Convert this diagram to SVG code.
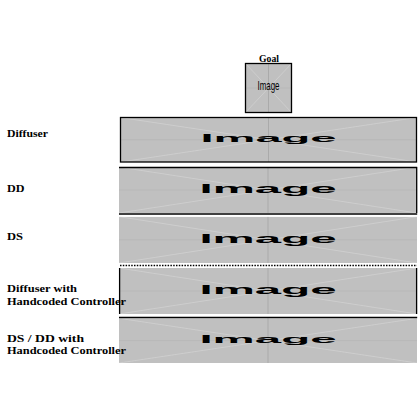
<svg xmlns="http://www.w3.org/2000/svg" xmlns:xlink="http://www.w3.org/1999/xlink" width="420" height="420" viewBox="0 0 420 420">
<style>
.lbl{font-family:"Liberation Serif","DejaVu Serif",serif;font-weight:bold;font-size:10.5px;fill:#000}
.frame{stroke:#000;stroke-width:1.3;fill:none}
.ph-bg{fill:#c0c0c0}
.ph-diag{stroke:#d2d2d2;stroke-width:0.7;fill:none}
.ph-v{stroke:#a4a4a4;stroke-width:0.8;fill:none}
.ph-h{stroke:#b2b2b2;stroke-width:0.6;fill:none}
.ph-t{font-family:"Liberation Sans",Arial,sans-serif;font-size:26px;font-weight:bold;fill:#000}
.ph-t2{font-family:"Liberation Sans",Arial,sans-serif;font-size:26px;fill:#000}
</style>
<defs>
<symbol id="ph" viewBox="0 0 100 100" preserveAspectRatio="none">
<rect class="ph-bg" x="0" y="0" width="100" height="100"/>
<path class="ph-diag" d="M0,0L100,100M100,0L0,100" vector-effect="non-scaling-stroke"/>
<path class="ph-h" d="M0,50H100" vector-effect="non-scaling-stroke"/>
<path class="ph-v" d="M50,0V100" vector-effect="non-scaling-stroke"/>
<text class="ph-t" x="50" y="56" text-anchor="middle" textLength="46" lengthAdjust="spacingAndGlyphs">Image</text>
</symbol>
<symbol id="ph2" viewBox="0 0 100 100" preserveAspectRatio="none">
<rect class="ph-bg" x="0" y="0" width="100" height="100"/>
<path class="ph-diag" d="M0,0L100,100M100,0L0,100" vector-effect="non-scaling-stroke"/>
<path class="ph-h" d="M0,50H100" vector-effect="non-scaling-stroke"/>
<path class="ph-v" d="M50,0V100" vector-effect="non-scaling-stroke"/>
<text class="ph-t2" x="50" y="54" text-anchor="middle" textLength="48" lengthAdjust="spacingAndGlyphs">Image</text>
</symbol>
</defs>
<g id="goal">
<use xlink:href="#ph2" href="#ph2" x="245.5" y="63.5" width="46" height="49"/>
<rect class="frame" x="245.5" y="63.5" width="46" height="49"/>
<text class="lbl" x="269" y="62" text-anchor="middle" textLength="20" lengthAdjust="spacingAndGlyphs">Goal</text>
</g>
<g id="diffuser">
<use xlink:href="#ph" href="#ph" x="120.5" y="117.5" width="296" height="44.5"/>
<rect class="frame" x="120.5" y="117.5" width="296" height="44.5"/>
<text class="lbl" x="7" y="137" textLength="41" lengthAdjust="spacingAndGlyphs">Diffuser</text>
</g>
<g id="dd">
<use xlink:href="#ph" href="#ph" x="119" y="167" width="298" height="46"/>
<path class="frame" d="M119,167.5H417.2M416.7,167V213"/>
<text class="lbl" x="7" y="192" textLength="17.5" lengthAdjust="spacingAndGlyphs">DD</text>
</g>
<g id="ds">
<use xlink:href="#ph" href="#ph" x="119" y="216.7" width="298" height="46.3"/>
<path class="frame" d="M119,214H417.2"/>
<text class="lbl" x="7" y="240" textLength="16" lengthAdjust="spacingAndGlyphs">DS</text>
</g>
<g id="diffuser-hc">
<use xlink:href="#ph" href="#ph" x="119" y="268" width="298" height="46"/>
<path class="frame" d="M119.6,268V314M416.6,268V314"/>
<text class="lbl" x="7" y="292" textLength="70" lengthAdjust="spacingAndGlyphs">Diffuser with</text>
<text class="lbl" x="7" y="304.5" textLength="119" lengthAdjust="spacingAndGlyphs">Handcoded Controller</text>
</g>
<g id="dsdd-hc">
<use xlink:href="#ph" href="#ph" x="119" y="318.3" width="298" height="44.7"/>
<path class="frame" d="M119,317.5H417.2"/>
<text class="lbl" x="7" y="341.5" textLength="77" lengthAdjust="spacingAndGlyphs">DS / DD with</text>
<text class="lbl" x="7" y="354" textLength="119" lengthAdjust="spacingAndGlyphs">Handcoded Controller</text>
</g>
<g id="connectors">
<path d="M120,265.5H417" stroke="#000" stroke-width="1.5" stroke-dasharray="1.5 1.3" fill="none"/>
</g>
</svg>
